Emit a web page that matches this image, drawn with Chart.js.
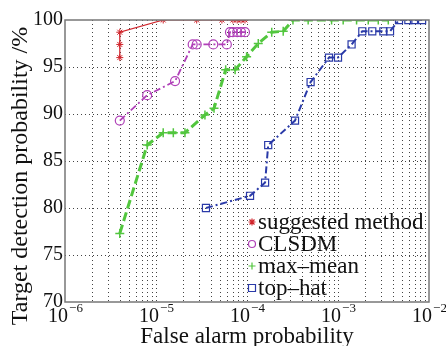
<!DOCTYPE html>
<html>
<head>
<meta charset="utf-8">
<script src="https://cdn.jsdelivr.net/npm/chart.js@4"></script>
<style>
  html, body { margin: 0; padding: 0; background: #fff; }
  #wrap { width: 446px; height: 346px; }
</style>
</head>
<body>
<div id="wrap"><canvas id="c" width="446" height="346"></canvas></div>
<script>
// values
var suggestedX = [4e-6, 4e-6, 4e-6, 1.2e-5, 2.8e-5, 5.3e-5, 7.0e-5, 7.8e-5, 8.6e-5, 9.5e-5];
var suggestedY = [96.0, 97.4, 98.7, 100, 100, 100, 100, 100, 100, 100];

var clsdmX = [4e-6, 8e-6, 1.62e-5, 2.53e-5, 2.8e-5, 4.26e-5, 6.0e-5, 6.5e-5, 7.0e-5, 7.8e-5, 8.6e-5, 9.5e-5];
var clsdmY = [89.3, 92.0, 93.5, 97.4, 97.4, 97.4, 97.4, 98.7, 98.7, 98.7, 98.7, 98.7];

var maxMeanX = [4e-6, 8e-6, 1.2e-5, 1.55e-5, 2.08e-5, 3.45e-5, 4.34e-5, 5.83e-5, 7.4e-5, 9.9e-5, 1.33e-4, 1.87e-4, 2.5e-4, 3.2e-4, 4.7e-4, 8.5e-4, 1.14e-3, 1.6e-3, 2.15e-3, 2.77e-3, 3.57e-3];
var maxMeanY = [77.3, 86.7, 88.0, 88.0, 88.0, 89.9, 90.6, 94.7, 94.7, 96.1, 97.5, 98.7, 98.8, 100, 100, 100, 100, 100, 100, 100, 100];

var topHatX = [3.54e-5, 1.08e-4, 1.58e-4, 1.71e-4, 3.37e-4, 5.0e-4, 7.96e-4, 1.0e-3, 1.41e-3, 1.85e-3, 2.38e-3, 3.15e-3, 3.73e-3, 4.68e-3, 5.93e-3, 6.84e-3, 8.4e-3];
var topHatY = [80.0, 81.3, 82.7, 86.7, 89.3, 93.4, 96.0, 96.0, 97.4, 98.8, 98.8, 98.8, 98.8, 100, 100, 100, 100];

var seriesNames = ["suggested method", "CLSDM", "max\u2013mean", "top\u2013hat"];
var xMajor = [1e-6, 1e-5, 1e-4, 1e-3, 1e-2];
var xExp = ["6", "5", "4", "3", "2"];
var yTicks = [70, 75, 80, 85, 90, 95, 100];

var SERIF = "'Liberation Serif', 'DejaVu Serif', serif";

function pts(xs, ys) {
    var out = [];
    for (var i = 0; i < xs.length; i++) out.push({x: xs[i], y: ys[i]});
    return out;
}

// all decade sub-divisions, used for the dotted grid
var xGrid = [];
for (var d = 0; d < xMajor.length - 1; d++) {
    for (var m = 1; m < 10; m++) xGrid.push(xMajor[d] * m);
}
xGrid.push(xMajor[xMajor.length - 1]);

//dotted grid drawn by hand so the dots stay crisp
var dottedGrid = {
    id: "dottedGrid",
    beforeDatasetsDraw: function (chart) {
        var c = chart.ctx, a = chart.chartArea;
        var xs = chart.scales.x, ys = chart.scales.y;
        c.save();
        c.strokeStyle = "#444";
        c.lineWidth = 1;
        c.setLineDash([1, 3]);
        c.beginPath();
        for (var i = 1; i < xGrid.length - 1; i++) {
            var px = Math.round(xs.getPixelForValue(xGrid[i])) + 0.5;
            c.moveTo(px, a.top);
            c.lineTo(px, a.bottom);
        }
        for (var j = 1; j < yTicks.length - 1; j++) {
            var py = Math.round(ys.getPixelForValue(yTicks[j])) + 0.5;
            c.moveTo(a.left, py);
            c.lineTo(a.right, py);
        }
        c.stroke();
        c.restore();
    }
};

//x tick labels with superscripts, axis titles, frame and legend
var extras = {
    id: "extras",
    afterDraw: function (chart) {
        var ctx = chart.ctx;
        var xs = chart.scales.x;
        var area = chart.chartArea;

        ctx.save();
        ctx.strokeStyle = "#777";
        ctx.lineWidth = 1.5;
        ctx.strokeRect(area.left, area.top, area.right - area.left, area.bottom - area.top);
        ctx.restore();

        ctx.save();
        ctx.fillStyle = "#111";
        ctx.textBaseline = "alphabetic";
        for (var i = 0; i < xMajor.length; i++) {
            var px = xs.getPixelForValue(xMajor[i]);
            var sup = "\u2212" + xExp[i];
            ctx.font = "20px " + SERIF;
            var w1 = ctx.measureText("10").width;
            ctx.font = "13px " + SERIF;
            var w2 = ctx.measureText(sup).width;
            var left = px - (w1 + w2) / 2;
            ctx.textAlign = "left";
            ctx.font = "20px " + SERIF;
            ctx.fillText("10", left, area.bottom + 20);
            ctx.font = "13px " + SERIF;
            ctx.fillText(sup, left + w1 + 1, area.bottom + 10);
        }
        ctx.font = "23px " + SERIF;
        ctx.textAlign = "center";
        ctx.fillText("False alarm probability", (area.left + area.right) / 2, 343);
        ctx.translate(27, (area.top + area.bottom) / 2 + 15);
        ctx.rotate(-Math.PI / 2);
        ctx.font = "24px " + SERIF;
        ctx.fillText("Target detection probability /%", 0, 0);
        ctx.restore();

        //Legend
        ctx.save();
        var rowY = [222, 244, 266, 288];
        ctx.font = "23px " + SERIF;
        ctx.textBaseline = "middle";
        ctx.textAlign = "left";
        for (var k = 0; k < chart.data.datasets.length; k++) {
            var ds = chart.data.datasets[k];
            var cy = rowY[k], cx = 252;
            ctx.strokeStyle = ds.borderColor;
            ctx.fillStyle = ds.borderColor;
            ctx.lineWidth = 1.2;
            ctx.setLineDash([]);
            ctx.beginPath();
            if (ds.pointStyle === "rect") {
                ctx.rect(cx - 3.5, cy - 3.5, 7, 7);
            } else if (ds.pointStyle === "circle") {
                ctx.arc(cx, cy, 3.5, 0, 2 * Math.PI);
            } else if (ds.pointStyle === "star") {
                ctx.moveTo(cx - 3.5, cy); ctx.lineTo(cx + 3.5, cy);
                ctx.moveTo(cx, cy - 3.5); ctx.lineTo(cx, cy + 3.5);
                ctx.moveTo(cx - 2.5, cy - 2.5); ctx.lineTo(cx + 2.5, cy + 2.5);
                ctx.moveTo(cx - 2.5, cy + 2.5); ctx.lineTo(cx + 2.5, cy - 2.5);
            } else {
                ctx.moveTo(cx - 3.5, cy); ctx.lineTo(cx + 3.5, cy);
                ctx.moveTo(cx, cy - 3.5); ctx.lineTo(cx, cy + 3.5);
            }
            ctx.stroke();
            ctx.fillStyle = "#111";
            ctx.fillText(seriesNames[k], 258, cy + 1);
        }
        ctx.restore();
    }
};

var ctx = document.getElementById("c").getContext("2d");
new Chart(ctx, {
    type: "line",
    data: {
        datasets: [{
            label: seriesNames[0],
            data: pts(suggestedX, suggestedY),
            borderColor: "#d0232a",
            backgroundColor: "#d0232a",
            borderWidth: 1.2,
            pointStyle: "star",
            pointRadius: 3.5,
            pointBorderWidth: 1,
            fill: false,
            order: 1
        }, {
            label: seriesNames[1],
            data: pts(clsdmX, clsdmY),
            borderColor: "#b040b8",
            backgroundColor: "transparent",
            borderWidth: 1.8,
            borderDash: [7, 3, 2, 3],
            pointStyle: "circle",
            pointRadius: 4.5,
            pointBorderWidth: 1.2,
            fill: false,
            order: 2
        }, {
            label: seriesNames[2],
            data: pts(maxMeanX, maxMeanY),
            borderColor: "#52c63e",
            backgroundColor: "#52c63e",
            borderWidth: 3,
            borderDash: [9, 4],
            pointStyle: "cross",
            pointRadius: 4.5,
            pointBorderWidth: 1.5,
            fill: false,
            order: 3
        }, {
            label: seriesNames[3],
            data: pts(topHatX, topHatY),
            borderColor: "#2a3aa8",
            backgroundColor: "transparent",
            borderWidth: 2,
            borderDash: [7, 3, 2, 3],
            pointStyle: "rect",
            pointRadius: 5,
            pointBorderWidth: 1.2,
            fill: false,
            order: 4
        }]
    },
    options: {
        responsive: false,
        animation: false,
        layout: { padding: { left: 0, top: 20, right: 17, bottom: 0 } },
        plugins: { legend: { display: false }, tooltip: { enabled: false } },
        scales: {
            x: {
                type: "logarithmic",
                min: 1e-6,
                max: 1e-2,
                afterBuildTicks: function (scale) {
                    scale.ticks = xGrid.map(function (v) { return {value: v}; });
                },
                afterFit: function (scale) { scale.height = 44; },
                ticks: { display: false },
                grid: { display: false },
                border: { display: false }
            },
            y: {
                min: 70,
                max: 100,
                afterBuildTicks: function (scale) {
                    scale.ticks = yTicks.map(function (v) { return {value: v}; });
                },
                afterFit: function (scale) { scale.width = 65; },
                ticks: {
                    color: "#111",
                    font: { family: SERIF, size: 20 },
                    padding: 2
                },
                grid: { display: false, drawTicks: false },
                border: { display: false }
            }
        }
    },
    plugins: [dottedGrid, extras]
});
</script>
</body>
</html>
